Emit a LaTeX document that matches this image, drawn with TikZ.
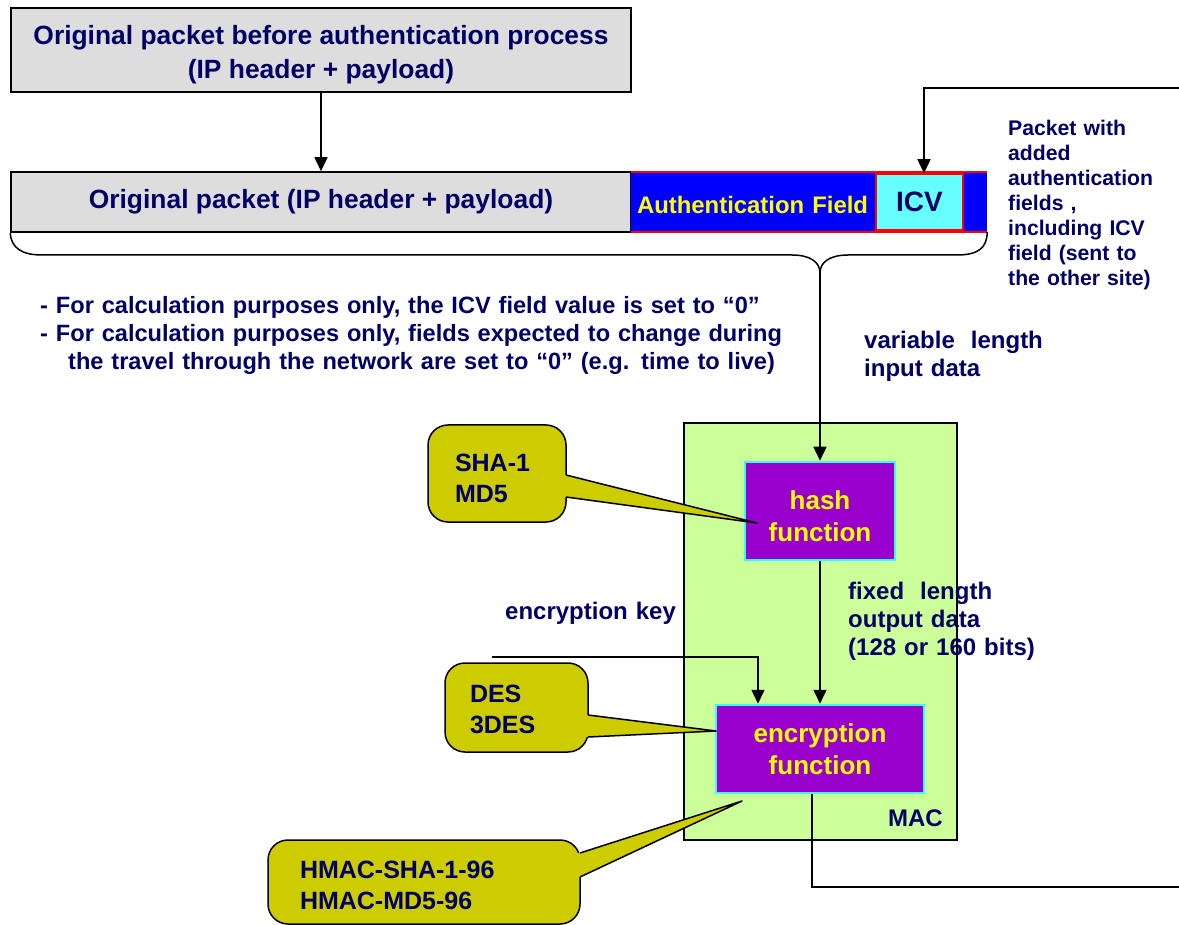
\documentclass[tikz,border=0pt]{standalone}
\usepackage{fontspec}
\setmainfont{Liberation Sans}
\usetikzlibrary{arrows.meta,calc}

\definecolor{navy}{RGB}{0,0,102}
\definecolor{boxgray}{RGB}{221,221,221}
\definecolor{macgreen}{RGB}{204,255,153}
\definecolor{funcpurple}{RGB}{153,0,204}
\definecolor{funcborder}{RGB}{51,255,255}
\definecolor{icvcyan}{RGB}{102,255,255}
\definecolor{calloutfill}{RGB}{204,204,0}
\definecolor{fieldblue}{RGB}{0,0,255}
\definecolor{fieldred}{RGB}{255,0,0}
\definecolor{labelyellow}{RGB}{255,255,0}

\newcommand\bigfont{\fontsize{26.4}{34}\selectfont\bfseries}
\newcommand\icvfont{\fontsize{28}{34}\selectfont\bfseries}
\newcommand\funcfont{\fontsize{26}{32}\selectfont\bfseries}
\newcommand\midfont{\fontsize{24}{28}\selectfont\bfseries}
\newcommand\notefont{\fontsize{23.6}{28}\selectfont\bfseries}
\newcommand\sidefont{\fontsize{21.2}{25}\selectfont\bfseries}
\newcommand\fieldfont{\fontsize{23.9}{26}\selectfont\bfseries}
\newcommand\calloutfont{\fontsize{25}{31}\selectfont\bfseries}
% invisible strut that lowers a block of text inside its box
\newcommand\topstrut[1]{\rule{0pt}{#1}}

\tikzset{
  packetbox/.style={draw=black, line width=1.5pt, fill=boxgray, text=navy,
    inner sep=0pt, align=center, font=\bigfont},
  funcbox/.style={draw=funcborder, line width=2.5pt, fill=funcpurple,
    text=labelyellow, inner sep=0pt, align=center, font=\funcfont},
  callout/.style={draw=black, line width=1.5pt, fill=calloutfill,
    rounded corners=20pt, text=navy, align=left, inner ysep=0pt, font=\calloutfont},
  pointer/.style={fill=calloutfill},
  pointeredge/.style={draw=black, line width=1.5pt, line join=round},
  link/.style={draw=black, line width=1.5pt},
  arrowlink/.style={link, -{Triangle[length=14pt,width=13pt]}},
  note/.style={text=navy, anchor=base west, inner sep=0pt, align=left},
}

\begin{document}
\begin{tikzpicture}[x=1pt,y=-1pt]
\useasboundingbox (0,0) rectangle (1179,925);
\clip (0,0) rectangle (1179,925);

% packets
\node[packetbox, minimum width=620pt, minimum height=84pt] (orig) at (321,50)
  {\topstrut{29pt}Original packet before authentication process\\(IP header + payload)};
\node[packetbox, minimum width=620pt, minimum height=60pt] (pkt) at (321,202)
  {Original packet (IP header + payload)};

% authentication header appended to the packet
\node[fill=fieldblue, minimum width=356pt, minimum height=60pt, inner xsep=6pt,
  inner ysep=0pt, text width=344pt, text height=23.5pt, text depth=0pt,
  align=left, text=labelyellow, font=\fieldfont]
  (auth) at (809,202) {Authentication Field};
\draw[fieldred, line width=2pt] (auth.north west) -- (auth.north east);
\draw[fieldred, line width=2pt] (auth.south west) -- (auth.south east);
\node[draw=fieldred, line width=1.5pt, fill=icvcyan, minimum width=87pt,
  minimum height=56pt, inner sep=0pt, text=navy, font=\icvfont] (icv) at (919.5,202) {ICV};

% explanatory texts
\node[note, text width=170pt, font=\sidefont] (sent) at (1008,136)
  {Packet with\\added\\authentication\\fields ,\\including ICV\\field (sent to\\the other site)};
\node[note, text width=800pt, font=\notefont] (calc) at (40,314)
  {- For calculation purposes only, the ICV field value is set to “0”\\
   - For calculation purposes only, fields expected to change during\\
   \hspace*{28pt}the travel through the network are set to “0” (e.g. time to live)};
\node[note, text width=250pt, font=\midfont] (varin) at (864,349)
  {variable\ \ length\\input data};

% MAC block
\node[draw=black, line width=1.5pt, fill=macgreen, minimum width=273pt,
  minimum height=417pt, inner sep=0pt] (mac) at (820.5,631.5) {};
\node[anchor=base east, inner sep=0pt, text=navy, font=\midfont] (maclabel) at (943,826) {MAC};
\node[funcbox, minimum width=150pt, minimum height=98pt] (hash) at (820,511)
  {\topstrut{29pt}hash\\function};
\node[funcbox, minimum width=208pt, minimum height=88pt] (enc) at (820,749)
  {encryption\\function};

\node[note, text width=250pt, font=\midfont] (fixout) at (848,599)
  {fixed\ \ length\\output data\\(128 or 160 bits)};
\node[note, text width=200pt, font=\midfont] (keylabel) at (505,619) {encryption key};

% brace collecting the whole packet
\coordinate (bracetip) at (820,273);
\draw[link] (pkt.south west) .. controls (11,248) and (22,255) .. (42,255) -- (792,255)
  .. controls (810,255) and (820,262) .. (bracetip)
  .. controls (820,262) and (830,255) .. (848,255) -- (957,255)
  .. controls (978,255) and (987,248) .. (auth.south east);

% connectors
\coordinate (keyin) at (492,657);
\coordinate (retin) at (1179,88);
\coordinate (retout) at (1179,887);
\draw[arrowlink] (orig) -- (pkt);
\draw[arrowlink] (bracetip) -- (hash);
\draw[arrowlink] (hash) -- (enc);
\draw[arrowlink] (keyin) -| ([xshift=-62pt]enc.north);
\draw[arrowlink] (retin) -| ([xshift=4.5pt]icv.north);
\draw[link] ([xshift=-8pt]enc.south) |- (retout);

% callouts naming the algorithms
\node[callout, minimum height=97pt, inner xsep=27pt, text width=84pt] (algohash) at (497,473.5)
  {\topstrut{27pt}SHA-1\\MD5};
\coordinate (tiphash) at (757,523);
\fill[pointer] (558,475) -- (566,475) -- (tiphash) -- (566,497) -- (558,497) -- cycle;
\draw[pointeredge] (566,475) -- (tiphash) -- (566,497);

\node[callout, minimum height=89pt, inner xsep=25pt, text width=93pt] (algoenc) at (516.5,707.5)
  {\topstrut{22pt}DES\\3DES};
\coordinate (tipenc) at (716,731);
\fill[pointer] (580,715) -- (588,715) -- (tipenc) -- (588,737) -- (580,737) -- cycle;
\draw[pointeredge] (588,715) -- (tipenc) -- (588,737);

\node[callout, minimum height=84pt, inner xsep=32pt, text width=248pt] (algomac) at (424,882)
  {\topstrut{25pt}HMAC-SHA-1-96\\HMAC-MD5-96};
\coordinate (tipmac) at (742,801);
\fill[pointer] (572,853) -- (580,853) -- (tipmac) -- (580,877) -- (572,877) -- cycle;
\draw[pointeredge] (580,853) -- (tipmac) -- (580,877);
\end{tikzpicture}
\end{document}
